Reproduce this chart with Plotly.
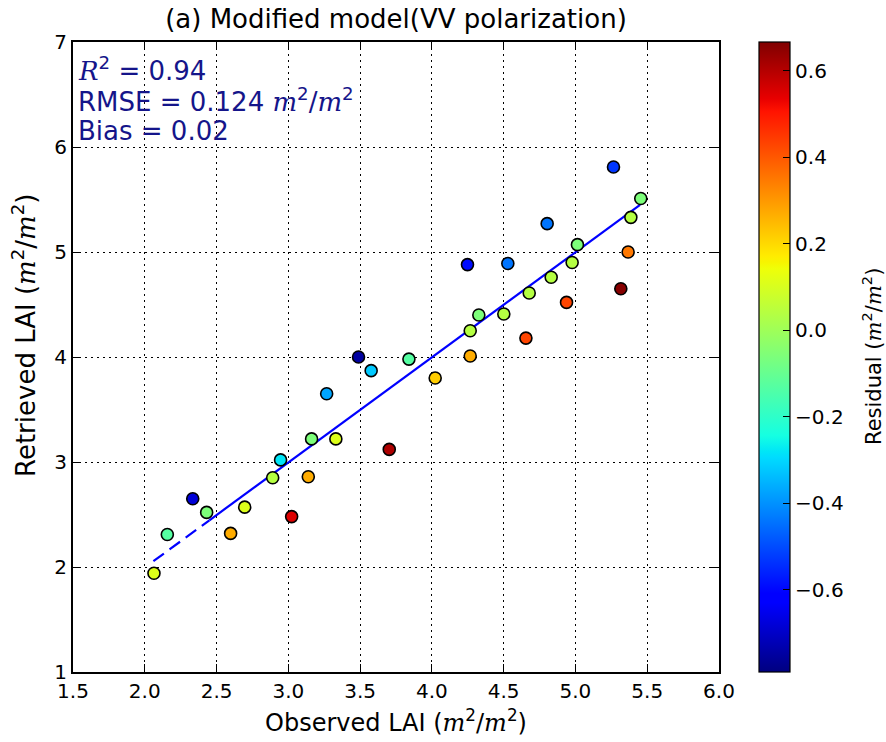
import plotly.graph_objects as go

observed = [2.064, 2.157, 2.334, 2.431, 2.598, 2.696, 2.891, 2.946, 3.023, 3.139,
            3.162, 3.267, 3.331, 3.703, 3.489, 3.577, 3.840, 4.023, 4.267, 4.267,
            4.327, 4.501, 4.655, 4.938, 4.248, 4.529, 4.678, 4.831, 4.803, 4.977,
            5.014, 5.265, 5.316, 5.367, 5.386, 5.455]
retrieved = [1.94, 2.31, 2.65, 2.52, 2.32, 2.57, 2.85, 3.02, 2.48, 2.86,
             3.22, 3.65, 3.22, 3.12, 4.00, 3.87, 3.98, 3.80, 4.01, 4.25,
             4.40, 4.41, 4.18, 4.52, 4.88, 4.89, 4.61, 4.76, 5.27, 4.90,
             5.07, 5.81, 4.65, 5.00, 5.33, 5.51]
residual = [0.11, -0.13, -0.68, -0.06, 0.27, 0.11, 0.04, -0.28, 0.55, 0.27,
            -0.06, -0.37, 0.11, 0.61, -0.75, -0.32, -0.13, 0.22, 0.27, 0.04,
            -0.06, 0.04, 0.43, 0.43, -0.59, -0.44, 0.04, 0.04, -0.44, 0.04,
            -0.06, -0.53, 0.66, 0.35, 0.04, -0.06]

fit_x_dash = [2.06, 2.45]
fit_y_dash = [2.055, 2.445]
fit_x = [2.45, 5.45]
fit_y = [2.445, 5.448]

cb_ticks = [-0.6, -0.4, -0.2, 0.0, 0.2, 0.4, 0.6]

jet = [[0.0, 'rgb(0,0,128)'], [0.11, 'rgb(0,0,255)'], [0.125, 'rgb(0,0,255)'],
       [0.34, 'rgb(0,219,255)'], [0.35, 'rgb(0,230,247)'], [0.375, 'rgb(21,255,226)'],
       [0.64, 'rgb(239,255,8)'], [0.65, 'rgb(247,245,0)'], [0.66, 'rgb(255,236,0)'],
       [0.89, 'rgb(255,19,0)'], [0.91, 'rgb(232,0,0)'], [1.0, 'rgb(128,0,0)']]

FONT = "DejaVu Sans"
SERIF = "font-family:'DejaVu Serif';font-style:italic"
m2 = f"<span style=\"{SERIF}\">m</span><sup>2</sup>/<span style=\"{SERIF}\">m</span><sup>2</sup>"

PL, PR, PT, PB = 73, 719, 42, 672
PW, PH = PR - PL, PB - PT

fig = go.Figure()
fig.add_trace(go.Scatter(x=fit_x_dash, y=fit_y_dash, mode='lines',
                         line=dict(color='#0000ff', width=2.2, dash='13px,7px'),
                         showlegend=False, hoverinfo='skip'))
fig.add_trace(go.Scatter(x=fit_x, y=fit_y, mode='lines',
                         line=dict(color='#0000ff', width=2.2),
                         showlegend=False, hoverinfo='skip'))
fig.add_trace(go.Scatter(
    x=observed, y=retrieved, mode='markers', showlegend=False,
    marker=dict(size=12, color=residual, colorscale=jet, cmin=-0.79, cmax=0.667,
                line=dict(color='black', width=1.6),
                colorbar=dict(
                    x=(759 - PL) / PW, xanchor='left', xref='paper', xpad=0, ypad=0,
                    y=0.5, yanchor='middle', len=1, lenmode='fraction',
                    thickness=31, thicknessmode='pixels',
                    outlinecolor='black', outlinewidth=1.2,
                    tickvals=cb_ticks, ticktext=[f"{v:.1f}".replace('-', '\u2212') for v in cb_ticks],
                    ticks='inside', ticklen=7, tickcolor='black',
                    tickfont=dict(family=FONT, size=20, color='black'),
                ))))

axis_common = dict(showline=True, linecolor='black', linewidth=2, mirror='ticks',
                   ticks='inside', ticklen=8, tickcolor='black', tickwidth=1,
                   showgrid=True, gridcolor='black', gridwidth=1, griddash='1.5px,4.5px',
                   zeroline=False, tickfont=dict(family=FONT, size=20, color='black'))

fig.update_xaxes(range=[1.5, 6.0], tickvals=[1.5, 2.0, 2.5, 3.0, 3.5, 4.0, 4.5, 5.0, 5.5, 6.0],
                 tickformat='.1f',
                 title=dict(text="Observed LAI (" + m2 + ")", standoff=12,
                            font=dict(family=FONT, size=24, color='black')),
                 **axis_common)
fig.update_yaxes(range=[1, 7], tickvals=[1, 2, 3, 4, 5, 6, 7], **axis_common)

# y-axis title
fig.add_annotation(text="Retrieved LAI (" + m2 + ")", xref='paper', yref='paper',
                   showarrow=False, textangle=-90,
                   x=(24 - PL) / PW, xanchor='center', y=(PB - 336) / PH, yanchor='middle',
                   font=dict(family=FONT, size=26, color='black'))
# colorbar title
fig.add_annotation(text="Residual (" + m2 + ")", xref='paper', yref='paper',
                   showarrow=False, textangle=-90,
                   x=(872 - PL) / PW, xanchor='center', y=0.5, yanchor='middle',
                   font=dict(family=FONT, size=21, color='black'))

stats = [
    f"<span style=\"{SERIF}\">R</span><sup>2</sup> = 0.94",
    "RMSE = 0.124 " + m2,
    "Bias = 0.02",
]
stat_y = [69, 100, 131]
for txt, py in zip(stats, stat_y):
    fig.add_annotation(text=txt, xref='paper', yref='paper', showarrow=False,
                       x=3 / PW, xanchor='left', y=(PB - py) / PH, yanchor='middle',
                       font=dict(family=FONT, size=26, color='#15158a'))

fig.update_layout(
    width=886, height=742,
    margin=dict(l=PL, r=886 - PR, t=PT, b=742 - PB, autoexpand=False),
    paper_bgcolor='white', plot_bgcolor='white',
    title=dict(text="(a) Modified model(VV polarization)", x=396 / 886, xanchor='center',
               y=1 - 19 / 742, yanchor='middle',
               font=dict(family=FONT, size=26, color='black')),
    font=dict(family=FONT, color='black'),
)

fig.write_html("out.html")
